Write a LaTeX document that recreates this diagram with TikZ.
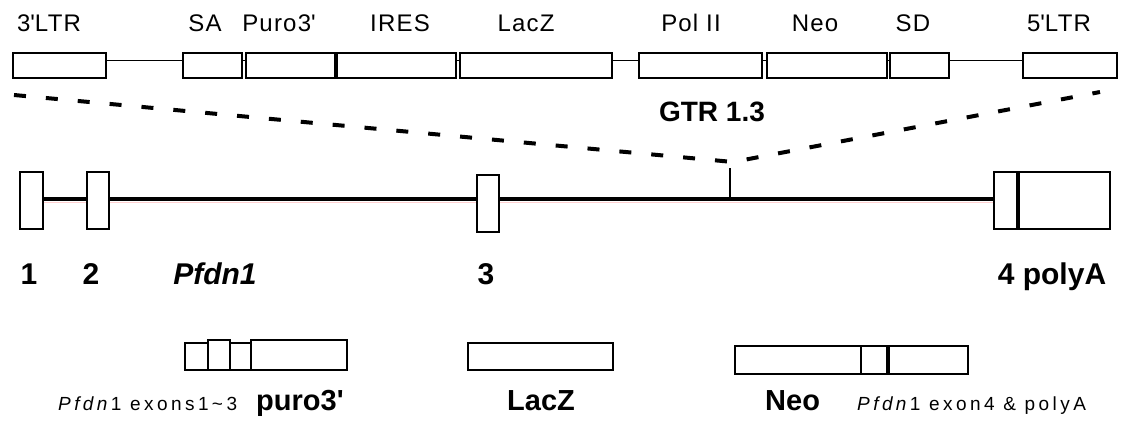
\documentclass[tikz,border=0pt]{standalone}
\usepackage{fontspec}
\setmainfont{Liberation Sans}
\newfontfamily\spaced[LetterSpace=5]{Liberation Sans}
\newfontfamily\wide[LetterSpace=18]{Liberation Sans}
\begin{document}
\begin{tikzpicture}[x=1pt,y=-1pt,
  part/.style={draw, line width=1.6pt, inner sep=0pt, fill=white},
  top/.style={part, minimum height=25pt},
  exon/.style={part, minimum height=57pt},
  piece/.style={part, minimum height=27pt},
  link/.style={line width=1.5pt},
  joint/.style={line width=3.4pt},
  gene/.style={line width=4.2pt},
  shade/.style={line width=0.8pt, red!18},
  gap/.style={line width=4pt, dash pattern=on 12pt off 20pt},
  toplab/.style={font=\spaced\fontsize{24}{24}\selectfont, anchor=base, inner sep=0pt},
  biglab/.style={font=\fontsize{30}{30}\selectfont\bfseries, anchor=base, inner sep=0pt},
  boldlab/.style={font=\fontsize{29}{29}\selectfont\bfseries, anchor=base, inner sep=0pt},
  smalllab/.style={font=\wide\fontsize{19}{19}\selectfont, anchor=base west, inner sep=0pt}
]
\useasboundingbox (0,0) rectangle (1124,425);

% ---- GTR1.3 trap vector ----
\node[top, minimum width=93pt]  (ltr3) at (59.5,65.5) {};
\node[top, minimum width=59pt]  (sa)   at (212.5,65.5) {};
\node[top, minimum width=89pt]  (puro) at (290.5,65.5) {};
\node[top, minimum width=121pt] (ires) at (395.5,65.5) {};
\node[top, minimum width=152pt] (lacz) at (536,65.5) {};
\node[top, minimum width=123pt] (pol)  at (700.5,65.5) {};
\node[top, minimum width=120pt] (neo)  at (827,65.5) {};
\node[top, minimum width=59pt]  (sd)   at (919.5,65.5) {};
\node[top, minimum width=94pt]  (ltr5) at (1070,65.5) {};

\draw[joint] (puro.north east) -- (puro.south east);
\foreach \a/\b in {ltr3/sa, sa/puro, ires/lacz, lacz/pol, pol/neo, neo/sd, sd/ltr5}
  \draw[link] ([yshift=5pt]\a.east) -- ([yshift=5pt]\b.west);

\node[toplab] (t1) at (49,32)   {3\textquotesingle LTR};
\node[toplab] (t2) at (205,32)  {SA};
\node[toplab] (t3) at (279,32)  {Puro3\textquotesingle};
\node[toplab] (t4) at (400,32)  {IRES};
\node[toplab] (t5) at (526,32)  {LacZ};
\node[toplab] (t6) at (691,32)  {Pol II};
\node[toplab] (t7) at (815,32)  {Neo};
\node[toplab] (t8) at (913,32)  {SD};
\node[toplab] (t9) at (1059,32) {5\textquotesingle LTR};

% ---- insertion into the gene ----
\coordinate (gl3)  at (14,95);
\coordinate (ins)  at (733,162);
\coordinate (gr5)  at (1100,92);
\draw[gap] (gl3) -- (ins) -- (gr5);
\node[font=\fontsize{28}{28}\selectfont\bfseries, anchor=base, inner sep=0pt] (gtr) at (712,122) {GTR 1.3};

% ---- Pfdn1 locus ----
\node[exon, minimum width=23pt] (ex1) at (31.5,200.5) {};
\node[exon, minimum width=22pt] (ex2) at (98,200.5) {};
\node[exon, minimum width=22pt] (ex3) at (488,203.5) {};
\node[exon, minimum width=23pt] (ex4a) at (1005.5,200.5) {};
\node[exon, minimum width=93pt] (ex4b) at (1063.5,200.5) {};
\draw[joint] (ex4a.north east) -- (ex4a.south east);

\coordinate (gl) at (0,199);
\coordinate (gs) at (0,202);
\draw[shade] (ex1.east |- gs) -- (ex2.west |- gs) (ex2.east |- gs) -- (ex3.west |- gs) (ex3.east |- gs) -- (ex4a.west |- gs);
\draw[gene] (ex1.east |- gl) -- (ex2.west |- gl) (ex2.east |- gl) -- (ex3.west |- gl) (ex3.east |- gl) -- (ex4a.west |- gl);

\coordinate (site)    at (730,199);
\coordinate (sitetop) at (730,168);
\draw[line width=1.3pt] (site) -- (sitetop);

\node[biglab] (l1) at (29,284)   {1};
\node[biglab] (l2) at (91,284)   {2};
\node[biglab] (lg) at (215,284)  {\itshape Pfdn1};
\node[biglab] (l3) at (486,284)  {3};
\node[biglab] (l4) at (1052,284) {4 polyA};

% ---- fusion transcripts ----
\node[piece, minimum width=23pt] (p1) at (196.5,356.5) {};
\node[part, minimum width=22pt, minimum height=30pt] (p2) at (219,355) {};
\node[piece, minimum width=21pt] (p3) at (240.5,356.5) {};
\node[part, minimum width=96pt, minimum height=30pt] (p4) at (299,355) {};

\node[piece, minimum width=145pt] (lzb) at (540.5,356.5) {};

\node[part, minimum width=126pt, minimum height=28pt] (n1) at (798,360) {};
\node[part, minimum width=26pt, minimum height=28pt]  (n2) at (874,360) {};
\node[part, minimum width=81pt, minimum height=28pt]  (n3) at (927.5,360) {};
\draw[joint] (n2.north east) -- (n2.south east);

\node[smalllab] (s1) at (58,410) {\textit{Pfdn}1 exons1\textasciitilde3};
\node[boldlab, anchor=base west] (s2) at (256,410) {puro3\textquotesingle};
\node[boldlab] (s3) at (541,410) {LacZ};
\node[boldlab, anchor=base west] (s4) at (765,410) {Neo};
\node[smalllab] (s5) at (857,410) {\textit{Pfdn}1 exon4 \& polyA};
\end{tikzpicture}
\end{document}
